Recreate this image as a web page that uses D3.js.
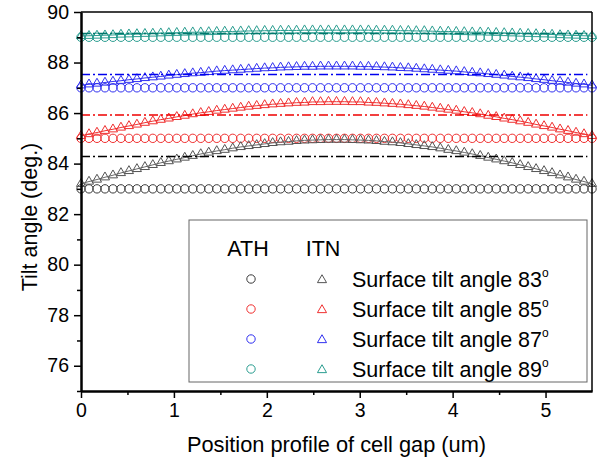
<!DOCTYPE html>
<html lang="en">
<head>
<script type="text/javascript" src="https://cdnjs.cloudflare.com/ajax/libs/d3/7.8.5/d3.min.js"></script>
<style>
body { margin: 0; background: #fff; }
text { font-family: "Liberation Sans", Arial, sans-serif; }
</style>
</head>
<body>
<script type="text/javascript">
    // position across the cell gap (um)
    var positions = [0, 0.086, 0.172, 0.258, 0.344, 0.430, 0.516, 0.602, 0.688, 0.773, 0.859, 0.945, 1.031, 1.117, 1.203, 1.289, 1.375, 1.461, 1.547, 1.633, 1.719, 1.805, 1.891, 1.977, 2.063, 2.148, 2.234, 2.320, 2.406, 2.492, 2.578, 2.664, 2.750, 2.836, 2.922, 3.008, 3.094, 3.180, 3.266, 3.352, 3.438, 3.523, 3.609, 3.695, 3.781, 3.867, 3.953, 4.039, 4.125, 4.211, 4.297, 4.383, 4.469, 4.555, 4.641, 4.727, 4.813, 4.898, 4.984, 5.070, 5.156, 5.242, 5.328, 5.414, 5.500]

    var surfaceAngles = [83, 85, 87, 89]
    var seriesColors = ["#3a3a3a", "#f03030", "#3030f0", "#2a9d90"]
    var lineColors = ["#000000", "#ee0000", "#0000ee", "#00786c"]

    // ATH: uniform tilt across the gap
    var ath83 = [83,83,83,83,83,83,83,83,83,83,83,83,83,83,83,83,83,83,83,83,83,83,83,83,83,83,83,83,83,83,83,83,83,83,83,83,83,83,83,83,83,83,83,83,83,83,83,83,83,83,83,83,83,83,83,83,83,83,83,83,83,83,83,83,83]
    var ath85 = [85,85,85,85,85,85,85,85,85,85,85,85,85,85,85,85,85,85,85,85,85,85,85,85,85,85,85,85,85,85,85,85,85,85,85,85,85,85,85,85,85,85,85,85,85,85,85,85,85,85,85,85,85,85,85,85,85,85,85,85,85,85,85,85,85]
    var ath87 = [87,87,87,87,87,87,87,87,87,87,87,87,87,87,87,87,87,87,87,87,87,87,87,87,87,87,87,87,87,87,87,87,87,87,87,87,87,87,87,87,87,87,87,87,87,87,87,87,87,87,87,87,87,87,87,87,87,87,87,87,87,87,87,87,87]
    var ath89 = [89,89,89,89,89,89,89,89,89,89,89,89,89,89,89,89,89,89,89,89,89,89,89,89,89,89,89,89,89,89,89,89,89,89,89,89,89,89,89,89,89,89,89,89,89,89,89,89,89,89,89,89,89,89,89,89,89,89,89,89,89,89,89,89,89]

    // ITN: tilt bulges toward the middle of the gap
    var itn83 = [83.20, 83.29, 83.37, 83.46, 83.54, 83.63, 83.71, 83.79, 83.87, 83.95, 84.03, 84.10, 84.17, 84.24, 84.31, 84.38, 84.44, 84.50, 84.55, 84.61, 84.66, 84.70, 84.74, 84.78, 84.82, 84.85, 84.87, 84.90, 84.92, 84.93, 84.94, 84.95, 84.95,
                 84.95, 84.94, 84.93, 84.92, 84.90, 84.87, 84.85, 84.82, 84.78, 84.74, 84.70, 84.66, 84.61, 84.55, 84.50, 84.44, 84.38, 84.31, 84.24, 84.17, 84.10, 84.03, 83.95, 83.87, 83.79, 83.71, 83.63, 83.54, 83.46, 83.37, 83.29, 83.20]
    var itn85 = [85.10, 85.17, 85.23, 85.30, 85.36, 85.43, 85.49, 85.55, 85.62, 85.68, 85.74, 85.79, 85.85, 85.90, 85.96, 86.01, 86.05, 86.10, 86.14, 86.18, 86.22, 86.26, 86.29, 86.32, 86.35, 86.37, 86.39, 86.41, 86.42, 86.44, 86.44, 86.45, 86.45,
                 86.45, 86.44, 86.44, 86.42, 86.41, 86.39, 86.37, 86.35, 86.32, 86.29, 86.26, 86.22, 86.18, 86.14, 86.10, 86.05, 86.01, 85.96, 85.90, 85.85, 85.79, 85.74, 85.68, 85.62, 85.55, 85.49, 85.43, 85.36, 85.30, 85.23, 85.17, 85.10]
    var itn87 = [87.10, 87.14, 87.17, 87.21, 87.25, 87.28, 87.32, 87.35, 87.39, 87.42, 87.45, 87.49, 87.52, 87.55, 87.58, 87.60, 87.63, 87.66, 87.68, 87.70, 87.72, 87.74, 87.76, 87.78, 87.79, 87.81, 87.82, 87.83, 87.84, 87.84, 87.85, 87.85, 87.85,
                 87.85, 87.85, 87.84, 87.84, 87.83, 87.82, 87.81, 87.79, 87.78, 87.76, 87.74, 87.72, 87.70, 87.68, 87.66, 87.63, 87.60, 87.58, 87.55, 87.52, 87.49, 87.45, 87.42, 87.39, 87.35, 87.32, 87.28, 87.25, 87.21, 87.17, 87.14, 87.10]
    var itn89 = [89.05, 89.06, 89.07, 89.08, 89.09, 89.11, 89.12, 89.13, 89.14, 89.15, 89.16, 89.17, 89.18, 89.19, 89.20, 89.20, 89.21, 89.22, 89.23, 89.23, 89.24, 89.25, 89.25, 89.26, 89.26, 89.27, 89.27, 89.27, 89.28, 89.28, 89.28, 89.28, 89.28,
                 89.28, 89.28, 89.28, 89.28, 89.27, 89.27, 89.27, 89.26, 89.26, 89.25, 89.25, 89.24, 89.23, 89.23, 89.22, 89.21, 89.20, 89.20, 89.19, 89.18, 89.17, 89.16, 89.15, 89.14, 89.13, 89.12, 89.11, 89.09, 89.08, 89.07, 89.06, 89.05]

    // mean ITN tilt (dash-dot reference lines)
    var itnMean = [84.28, 85.92, 87.53, 89.15]

    var xTicks = [0, 1, 2, 3, 4, 5]
    var xMinor = [0.5, 1.5, 2.5, 3.5, 4.5]
    var yTicks = [76, 78, 80, 82, 84, 86, 88, 90]
    var yMinor = [75, 77, 79, 81, 83, 85, 87, 89]

    var athSeries = [ath83, ath85, ath87, ath89]
    var itnSeries = [itn83, itn85, itn87, itn89]

    var w = 604
    var h = 459
    var pLeft = 81, pRight = 592, pTop = 12, pBottom = 391

    var x = d3.scaleLinear().domain([0, 5.5]).range([pLeft, pRight])
    var y = d3.scaleLinear().domain([75, 90]).range([pBottom, pTop])

    var svg = d3.select("body")
                .append("svg")
                .attr("width", w)
                .attr("height", h)

    // ATH circles
    athSeries.forEach(function(vals, k) {
        svg.append("g")
            .selectAll("circle")
            .data(vals)
            .enter()
            .append("circle")
            .attr("cx", function(d, i) { return x(positions[i]) })
            .attr("cy", function(d) { return y(d) })
            .attr("r", 4.2)
            .attr("fill", "none")
            .attr("stroke", seriesColors[k])
            .attr("stroke-width", 1)
    })

    // ITN triangles
    var tri = d3.symbol().type(d3.symbolTriangle).size(36)
    itnSeries.forEach(function(vals, k) {
        svg.append("g")
            .selectAll("path")
            .data(vals)
            .enter()
            .append("path")
            .attr("d", tri)
            .attr("transform", function(d, i) {
                return "translate(" + x(positions[i]) + "," + y(d) + ")"
            })
            .attr("fill", "none")
            .attr("stroke", k == 0 ? "#555" : seriesColors[k])
            .attr("stroke-width", 1)
    })

    // fitted curves
    var line = d3.line()
        .x(function(d, i) { return x(positions[i]) })
        .y(function(d) { return y(d) })
    itnSeries.forEach(function(vals, k) {
        svg.append("path")
            .attr("d", line(vals))
            .attr("fill", "none")
            .attr("stroke", k == 0 ? "#666" : seriesColors[k])
            .attr("stroke-width", 1)
    })

    // mean lines
    svg.selectAll(".mean")
        .data(itnMean)
        .enter()
        .append("line")
        .attr("class", "mean")
        .attr("x1", x(0))
        .attr("x2", x(5.45))
        .attr("y1", function(d) { return y(d) })
        .attr("y2", function(d) { return y(d) })
        .attr("stroke", function(d, i) { return lineColors[i] })
        .attr("stroke-width", 1.5)
        .attr("stroke-dasharray", "9,3,2,3")

    // axes
    var fontStack = "'Liberation Sans', Arial, sans-serif"
    var xAxis = svg.append("g")
        .attr("transform", "translate(0," + pBottom + ")")
        .call(d3.axisBottom(x).tickValues(xTicks).tickFormat(d3.format("d")).tickSize(7).tickSizeOuter(0).tickPadding(5))
    var xAxisMinor = svg.append("g")
        .attr("transform", "translate(0," + pBottom + ")")
        .call(d3.axisBottom(x).tickValues(xMinor).tickSize(4).tickSizeOuter(0).tickFormat(""))
    var yAxis = svg.append("g")
        .attr("transform", "translate(" + pLeft + ",0)")
        .call(d3.axisLeft(y).tickValues(yTicks).tickFormat(d3.format("d")).tickSize(7).tickSizeOuter(0).tickPadding(5))
    var yAxisMinor = svg.append("g")
        .attr("transform", "translate(" + pLeft + ",0)")
        .call(d3.axisLeft(y).tickValues(yMinor).tickSize(4).tickSizeOuter(0).tickFormat(""))

    ;[xAxis, xAxisMinor, yAxis, yAxisMinor].forEach(function(a) {
        a.select(".domain").attr("stroke-width", 2).attr("stroke", "#000")
        a.selectAll(".tick line").attr("stroke-width", 1.5).attr("stroke", "#000")
        a.selectAll("text").attr("font-size", 19.5).attr("font-family", fontStack).attr("fill", "#000")
    })

    // frame top/right
    svg.append("line").attr("x1", pLeft).attr("x2", pRight).attr("y1", pTop).attr("y2", pTop)
        .attr("stroke", "#000").attr("stroke-width", 1.5)
    svg.append("line").attr("x1", pRight).attr("x2", pRight).attr("y1", pTop).attr("y2", pBottom)
        .attr("stroke", "#000").attr("stroke-width", 1.5)

    // axis titles
    svg.append("text")
        .text("Position profile of cell gap (um)")
        .attr("x", (pLeft + pRight) / 2)
        .attr("y", 452)
        .attr("text-anchor", "middle")
        .attr("font-size", 21.8)
    svg.append("text")
        .text("Tilt angle (deg.)")
        .attr("transform", "translate(37,217) rotate(-90)")
        .attr("text-anchor", "middle")
        .attr("font-size", 21.5)

    // legend
    var lg = svg.append("g")
    lg.append("rect")
        .attr("x", 189).attr("y", 220)
        .attr("width", 398).attr("height", 162)
        .attr("fill", "#fff")
        .attr("stroke", "#666")
        .attr("stroke-width", 1)
    lg.append("text").text("ATH").attr("x", 248).attr("y", 256).attr("text-anchor", "middle").attr("font-size", 21.5)
    lg.append("text").text("ITN").attr("x", 323).attr("y", 256).attr("text-anchor", "middle").attr("font-size", 21.5)

    var rowY = d3.scalePoint().domain(surfaceAngles).range([279, 369])
    surfaceAngles.forEach(function(a, k) {
        var yy = rowY(a)
        lg.append("circle")
            .attr("cx", 251).attr("cy", yy).attr("r", 4.2)
            .attr("fill", "none").attr("stroke", seriesColors[k]).attr("stroke-width", 1)
        lg.append("path")
            .attr("d", tri)
            .attr("transform", "translate(322," + (yy + 1) + ")")
            .attr("fill", "none").attr("stroke", k == 0 ? "#555" : seriesColors[k]).attr("stroke-width", 1)
        var t = lg.append("text")
            .attr("x", 352).attr("y", yy + 8)
            .attr("font-size", 21.5)
        t.append("tspan").text("Surface tilt angle " + a)
        t.append("tspan").text("o").attr("font-size", 12).attr("dy", -10)
    })

</script>
</body>
</html>
